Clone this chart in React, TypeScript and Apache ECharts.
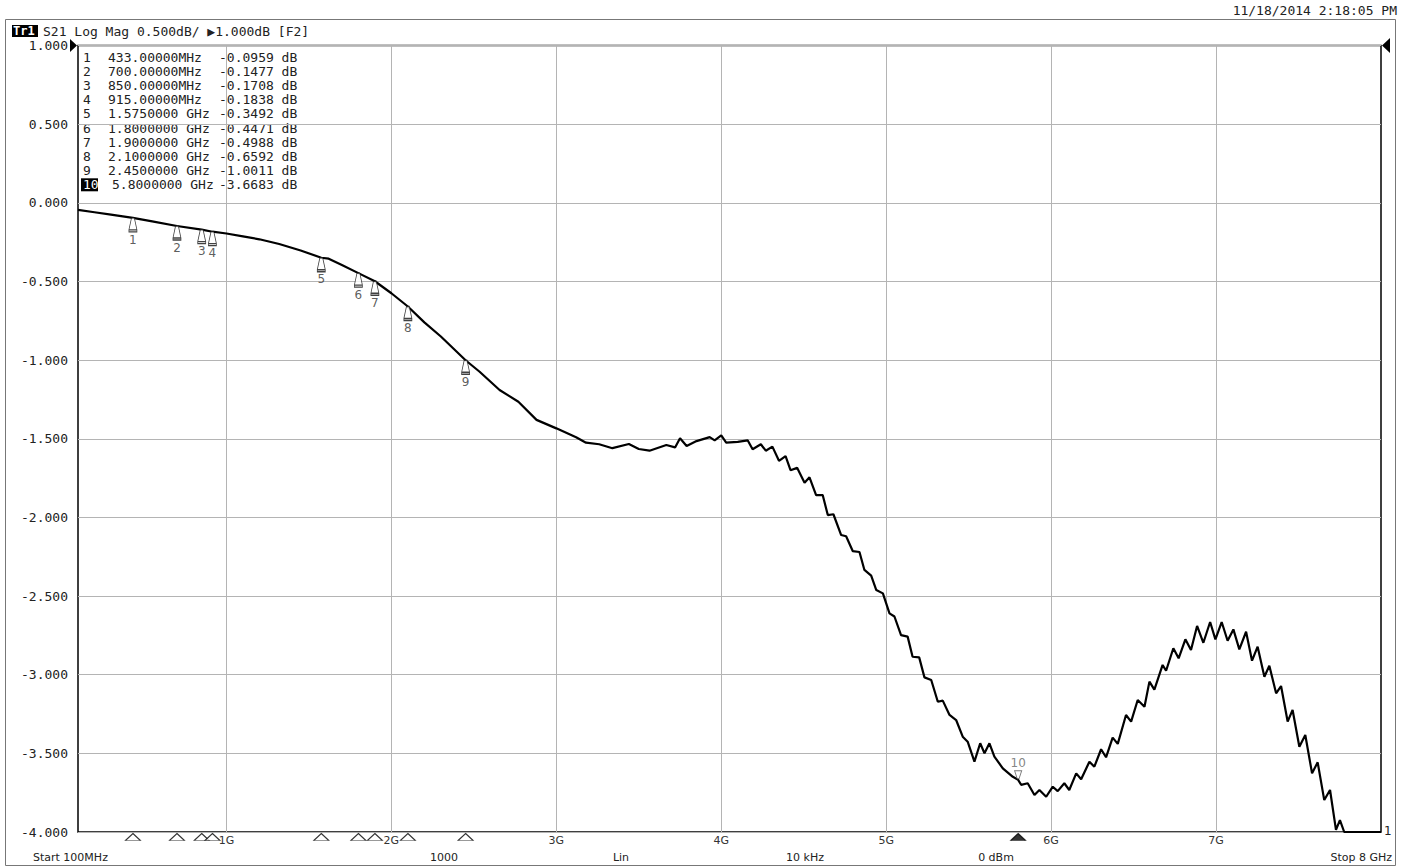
import React, { useEffect, useRef } from "react";
import * as echarts from "echarts";

// Trace S21 (frequency in GHz, magnitude in dB)
const freqGHz = [
  0.1, 0.2, 0.3, 0.433, 0.55, 0.7, 0.85, 0.915, 1.0, 1.1, 1.2, 1.32, 1.45, 1.575, 1.62, 1.7, 1.8, 1.9, 2.0, 2.1,
  2.2, 2.3, 2.45, 2.535, 2.656, 2.77, 2.88, 3.0, 3.12, 3.18, 3.26, 3.34, 3.44, 3.5, 3.565, 3.667, 3.72, 3.75, 3.79, 3.85,
  3.93, 3.96, 4.0, 4.03, 4.1, 4.16, 4.19, 4.24, 4.27, 4.31, 4.35, 4.39, 4.42, 4.46, 4.505, 4.535, 4.575, 4.615, 4.646, 4.68,
  4.727, 4.757, 4.797, 4.838, 4.868, 4.909, 4.94, 4.98, 5.02, 5.05, 5.09, 5.13, 5.16, 5.2, 5.232, 5.273, 5.313, 5.343, 5.384, 5.424,
  5.464, 5.494, 5.535, 5.57, 5.596, 5.626, 5.656, 5.707, 5.768, 5.8, 5.818, 5.858, 5.899, 5.929, 5.97, 6.01, 6.04, 6.08, 6.11, 6.152,
  6.182, 6.232, 6.262, 6.303, 6.333, 6.373, 6.404, 6.454, 6.485, 6.525, 6.566, 6.596, 6.626, 6.676, 6.697, 6.741, 6.773, 6.814, 6.848, 6.885,
  6.923, 6.964, 6.996, 7.034, 7.07, 7.105, 7.141, 7.182, 7.218, 7.252, 7.293, 7.323, 7.364, 7.394, 7.434, 7.464, 7.505, 7.541, 7.582, 7.616,
  7.656, 7.691, 7.727, 7.751, 7.777, 8.0,
];
const s21dB = [
  -0.045, -0.06, -0.075, -0.0959, -0.118, -0.1477, -0.1708, -0.1838, -0.195, -0.213, -0.232, -0.262, -0.303, -0.3492, -0.355, -0.395, -0.4471, -0.4988, -0.575, -0.6592,
  -0.76, -0.85, -1.0011, -1.074, -1.19, -1.265, -1.38, -1.434, -1.49, -1.525, -1.535, -1.56, -1.533, -1.565, -1.576, -1.54, -1.555, -1.497, -1.546, -1.515,
  -1.49, -1.51, -1.478, -1.525, -1.52, -1.51, -1.567, -1.535, -1.576, -1.55, -1.64, -1.61, -1.7, -1.685, -1.78, -1.745, -1.858, -1.858, -1.985, -1.98,
  -2.112, -2.12, -2.214, -2.22, -2.334, -2.37, -2.462, -2.483, -2.61, -2.63, -2.748, -2.758, -2.886, -2.89, -3.017, -3.034, -3.172, -3.165, -3.256, -3.288,
  -3.394, -3.426, -3.553, -3.436, -3.5, -3.436, -3.521, -3.595, -3.649, -3.6683, -3.7, -3.69, -3.765, -3.733, -3.776, -3.712, -3.74, -3.69, -3.733, -3.627,
  -3.665, -3.553, -3.585, -3.474, -3.525, -3.4, -3.44, -3.256, -3.298, -3.161, -3.204, -3.044, -3.095, -2.938, -2.975, -2.832, -2.896, -2.775, -2.843, -2.69,
  -2.797, -2.665, -2.775, -2.665, -2.784, -2.712, -2.839, -2.727, -2.911, -2.822, -3.013, -2.943, -3.118, -3.072, -3.298, -3.224, -3.458, -3.383, -3.627, -3.557,
  -3.797, -3.733, -3.987, -3.924, -4.0, -4.0,
];

// Markers
const markerFreq = [0.433, 0.7, 0.85, 0.915, 1.575, 1.8, 1.9, 2.1, 2.45, 5.8];
const markerDb = [-0.0959, -0.1477, -0.1708, -0.1838, -0.3492, -0.4471, -0.4988, -0.6592, -1.0011, -3.6683];
const markerFreqText = [
  "433.00000MHz", "700.00000MHz", "850.00000MHz", "915.00000MHz", "1.5750000 GHz",
  "1.8000000 GHz", "1.9000000 GHz", "2.1000000 GHz", "2.4500000 GHz", "5.8000000 GHz",
];
const markerDbText = [
  "-0.0959 dB", "-0.1477 dB", "-0.1708 dB", "-0.1838 dB", "-0.3492 dB",
  "-0.4471 dB", "-0.4988 dB", "-0.6592 dB", "-1.0011 dB", "-3.6683 dB",
];

// Axis
const gridGHz = [1, 2, 3, 4, 5, 6, 7];
const gridLabels = ["1G", "2G", "3G", "4G", "5G", "6G", "7G"];
const yMin = -4;
const yMax = 1;
const yStep = 0.5;

const MONO = "DejaVu Sans Mono";
const SANS = "DejaVu Sans";

export default function App() {
  const ref = useRef<HTMLDivElement>(null);

  useEffect(() => {
    if (!ref.current) return;
    const chart = echarts.init(ref.current, null, { renderer: "svg" });

    const trace = freqGHz.map((f, i) => [f, s21dB[i]]);
    const traceMarkers = markerFreq.slice(0, 9).map((f, i) => ({ value: [f, markerDb[i]], name: String(i + 1) }));
    const marker10 = [{ value: [markerFreq[9], markerDb[9]], name: "10" }];
    const bottomMarks = markerFreq.map((f, i) => ({
      value: [f, yMin],
      itemStyle: i === 9 ? { color: "#000", borderColor: "#000" } : { color: "#fff", borderColor: "#000" },
    }));

    const rowY = (i: number) => 57 + i * 14.2;
    const listGraphics: any[] = [];
    markerFreq.forEach((_, i) => {
      if (i === 9) {
        listGraphics.push({
          type: "rect",
          shape: { x: 81, y: rowY(i) - 6.5, width: 17, height: 13 },
          style: { fill: "#000" },
        });
      }
      listGraphics.push({
        type: "text",
        x: 83,
        y: rowY(i),
        style: {
          text: String(i + 1),
          font: `13px '${MONO}'`,
          fill: i === 9 ? "#fff" : "#222",
          verticalAlign: "middle",
        },
      });
      listGraphics.push({
        type: "text",
        x: i === 9 ? 112 : 108,
        y: rowY(i),
        style: { text: markerFreqText[i], font: `13px '${MONO}'`, fill: "#222", verticalAlign: "middle" },
      });
      listGraphics.push({
        type: "text",
        x: 219,
        y: rowY(i),
        style: { text: markerDbText[i], font: `13px '${MONO}'`, fill: "#222", verticalAlign: "middle" },
      });
    });

    const option: any = {
      animation: false,
      backgroundColor: "#fff",
      grid: {
        left: 78,
        right: 24,
        top: 45.5,
        bottom: 36,
        show: true,
        borderColor: "#000",
        borderWidth: 1.5,
        backgroundColor: "transparent",
      },
      xAxis: {
        type: "value",
        min: 0.1,
        max: 8,
        axisLine: { show: false },
        axisTick: { show: false },
        axisLabel: { show: false },
        splitLine: { show: false },
      },
      yAxis: {
        type: "value",
        min: yMin,
        max: yMax,
        interval: yStep,
        axisLine: { show: false },
        axisTick: { show: false },
        axisLabel: {
          margin: 10,
          fontFamily: MONO,
          fontSize: 13,
          color: "#222",
          formatter: (v: number) => v.toFixed(3),
        },
        splitLine: { lineStyle: { color: "#b4b4b4", width: 1 } },
      },
      series: [
        {
          type: "line",
          data: trace,
          showSymbol: false,
          symbol: "none",
          clip: true,
          z: 3,
          lineStyle: { color: "#000", width: 2.2 },
          markLine: {
            z: 1,
            silent: true,
            symbol: "none",
            lineStyle: { color: "#b4b4b4", width: 1, type: "solid" },
            label: {
              show: true,
              position: "start",
              distance: 3,
              fontFamily: SANS,
              fontSize: 11,
              color: "#333",
              formatter: (p: any) => gridLabels[gridGHz.indexOf(p.value)] ?? "",
            },
            data: gridGHz.map((g) => ({ xAxis: g })),
          },
        },
        {
          type: "scatter",
          data: traceMarkers,
          clip: false,
          z: 4,
          symbol: "path://M2.6,0 L5.4,0 L8,12 L8,14 L0,14 L0,12 Z M0,12 L8,12",
          symbolSize: [8, 14],
          symbolOffset: [0, 7],
          itemStyle: { color: "#fff", borderColor: "#111", borderWidth: 1 },
          label: {
            show: true,
            position: "bottom",
            distance: 1,
            fontFamily: SANS,
            fontSize: 12,
            color: "#333",
            formatter: (p: any) => p.name,
          },
        },
        {
          type: "scatter",
          data: marker10,
          clip: false,
          z: 4,
          symbol: "path://M0,0 L8,0 L5,8 L3,8 Z",
          symbolSize: [7, 8],
          symbolOffset: [0, -5],
          itemStyle: { color: "#fff", borderColor: "#555", borderWidth: 1 },
          label: {
            show: true,
            position: "top",
            distance: 1,
            fontFamily: SANS,
            fontSize: 12,
            color: "#666",
            formatter: (p: any) => p.name,
          },
        },
        {
          type: "scatter",
          data: bottomMarks,
          clip: false,
          z: 4,
          symbol: "triangle",
          symbolSize: [15, 7],
          symbolOffset: [0, 5],
          itemStyle: { borderWidth: 1 },
        },
      ],
      graphic: [
        {
          type: "rect",
          shape: { x: 5.5, y: 19.5, width: 1390, height: 846 },
          style: { fill: "none", stroke: "#777", lineWidth: 1 },
          silent: true,
        },
        { type: "rect", shape: { x: 12, y: 25, width: 26, height: 12 }, style: { fill: "#000" } },
        {
          type: "text",
          x: 13,
          y: 31,
          style: { text: "Tr1", font: `bold 12px '${MONO}'`, fill: "#fff", verticalAlign: "middle" },
        },
        {
          type: "text",
          x: 43,
          y: 31,
          style: { text: "S21 Log Mag 0.500dB/ ▶1.000dB [F2]", font: `13px '${MONO}'`, fill: "#222", verticalAlign: "middle" },
        },
        {
          type: "text",
          x: 1397,
          y: 10,
          style: { text: "11/18/2014 2:18:05 PM", font: `13px '${MONO}'`, fill: "#222", align: "right", verticalAlign: "middle" },
        },
        { type: "polygon", shape: { points: [[70, 39], [77, 45.5], [70, 52]] }, style: { fill: "#000" } },
        { type: "polygon", shape: { points: [[1390, 38], [1382, 45.5], [1390, 53]] }, style: { fill: "#000" } },
        {
          type: "text",
          x: 1384,
          y: 831,
          style: { text: "1", font: `12px '${SANS}'`, fill: "#222", verticalAlign: "middle" },
        },
        { type: "text", x: 33, y: 857, style: { text: "Start 100MHz", font: `11px '${SANS}'`, fill: "#222", verticalAlign: "middle" } },
        { type: "text", x: 444, y: 857, style: { text: "1000", font: `11px '${SANS}'`, fill: "#222", align: "center", verticalAlign: "middle" } },
        { type: "text", x: 621, y: 857, style: { text: "Lin", font: `11px '${SANS}'`, fill: "#222", align: "center", verticalAlign: "middle" } },
        { type: "text", x: 805, y: 857, style: { text: "10 kHz", font: `11px '${SANS}'`, fill: "#222", align: "center", verticalAlign: "middle" } },
        { type: "text", x: 996, y: 857, style: { text: "0 dBm", font: `11px '${SANS}'`, fill: "#222", align: "center", verticalAlign: "middle" } },
        { type: "text", x: 1392, y: 857, style: { text: "Stop 8 GHz", font: `11px '${SANS}'`, fill: "#222", align: "right", verticalAlign: "middle" } },
        ...listGraphics,
      ],
    };

    chart.setOption(option);
    return () => chart.dispose();
  }, []);

  return (
    <div
      ref={ref}
      style={{ position: "fixed", left: 0, top: 0, width: "1405px", height: "868px", background: "#fff" }}
    />
  );
}
